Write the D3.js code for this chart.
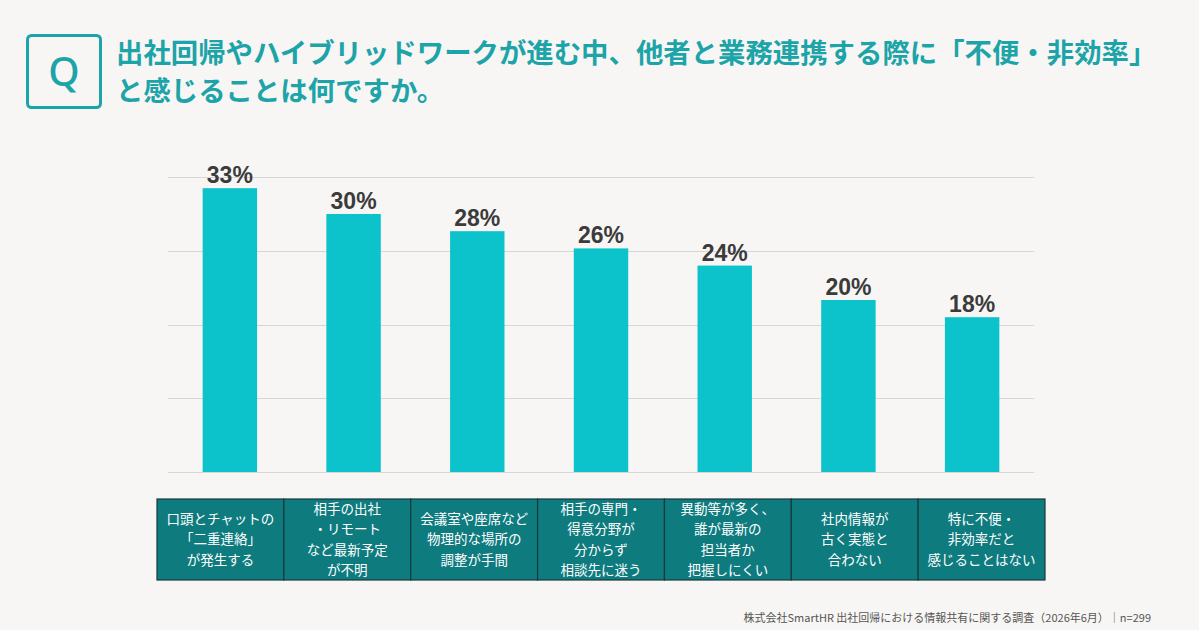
<!DOCTYPE html>
<html><head><meta charset="utf-8">
<script src="https://cdn.jsdelivr.net/npm/d3@7"></script>
<style>
html,body{margin:0;padding:0;background:#f7f6f4;}
svg{display:block;}
</style></head>
<body>
<svg id="chart" width="1199" height="630"></svg>
<script>
const titleLines = ["出社回帰やハイブリッドワークが進む中、他者と業務連携する際に「不便・非効率」", "と感じることは何ですか。"];
const categories = [
  ["口頭とチャットの","「二重連絡」","が発生する"],
  ["相手の出社","・リモート","など最新予定","が不明"],
  ["会議室や座席など","物理的な場所の","調整が手間"],
  ["相手の専門・","得意分野が","分からず","相談先に迷う"],
  ["異動等が多く、","誰が最新の","担当者か","把握しにくい"],
  ["社内情報が","古く実態と","合わない"],
  ["特に不便・","非効率だと","感じることはない"]
];
const values = [33, 30, 28, 26, 24, 20, 18];
const gridTicks = [0, 8.575, 17.15, 25.725, 34.3];
const footnote = "株式会社SmartHR 出社回帰における情報共有に関する調査（2026年6月）｜n=299";

const svg = d3.select("#chart");
const teal = "#1ca4a9";
const jp = "'Noto Sans CJK JP','Noto Sans',sans-serif";

// Q box
svg.append("rect").attr("x",27.5).attr("y",35.5).attr("width",73).attr("height",72)
  .attr("rx",4).attr("fill","none").attr("stroke",teal).attr("stroke-width",3);
svg.append("text").attr("x",64).attr("y",86).attr("text-anchor","middle")
  .attr("font-family","'Noto Sans','Liberation Sans',Arial,sans-serif").attr("font-weight",500).attr("font-size",40)
  .attr("fill",teal).text("Q");

// Title
svg.append("g").selectAll("text").data(titleLines).join("text")
  .attr("x",116).attr("y",(d,i)=>63+i*38)
  .attr("font-family",jp).attr("font-weight",700).attr("font-size",27.4)
  .attr("fill",teal).text(d=>d);

// Scales
const x = d3.scaleBand().domain(d3.range(values.length)).range([168,1034]).paddingInner(0.56).paddingOuter(0.28);
const y = d3.scaleLinear().domain([0,34.3]).range([472,177]);

// Gridlines
svg.append("g").selectAll("line").data(gridTicks).join("line")
  .attr("x1",168).attr("x2",1034).attr("y1",d=>Math.round(y(d))+0.5).attr("y2",d=>Math.round(y(d))+0.5)
  .attr("stroke","#d6d6d4").attr("stroke-width",1);

// Bars
svg.append("g").selectAll("rect").data(values).join("rect")
  .attr("x",(d,i)=>x(i)).attr("width",x.bandwidth())
  .attr("y",d=>y(d)).attr("height",d=>y(0)-y(d))
  .attr("fill","#0cc3cb");

// Value labels
svg.append("g").selectAll("text").data(values).join("text")
  .attr("x",(d,i)=>x(i)+x.bandwidth()/2).attr("y",d=>y(d)-5)
  .attr("text-anchor","middle")
  .attr("font-family","'Liberation Sans',Arial,sans-serif").attr("font-weight",700).attr("font-size",23)
  .attr("fill","#3b3b3b").text(d=>d+"%");

// Category table
const tbl = d3.scaleBand().domain(d3.range(categories.length)).range([157,1045]);
const tTop = 499, tH = 81;
const cells = svg.append("g").selectAll("g").data(categories).join("g")
  .attr("transform",(d,i)=>`translate(${tbl(i)},${tTop})`);
cells.append("rect").attr("width",tbl.bandwidth()).attr("height",tH)
  .attr("fill","#0e7b7f").attr("stroke","#163a3c").attr("stroke-width",1.2);
cells.each(function(lines){
  const g = d3.select(this);
  const lh = 20.5;
  const start = tH/2 - (lines.length-1)*lh/2;
  g.selectAll("text").data(lines).join("text")
    .attr("x",tbl.bandwidth()/2).attr("y",(d,j)=>start+j*lh)
    .attr("dy","0.36em").attr("text-anchor","middle")
    .attr("font-family",jp).attr("font-size",13.5).attr("fill","#ffffff")
    .text(d=>d);
});

// Footnote
svg.append("text").attr("x",1151).attr("y",622).attr("text-anchor","end")
  .attr("font-family",jp).attr("font-size",11).attr("fill","#555")
  .text(footnote);
</script>
</body></html>
